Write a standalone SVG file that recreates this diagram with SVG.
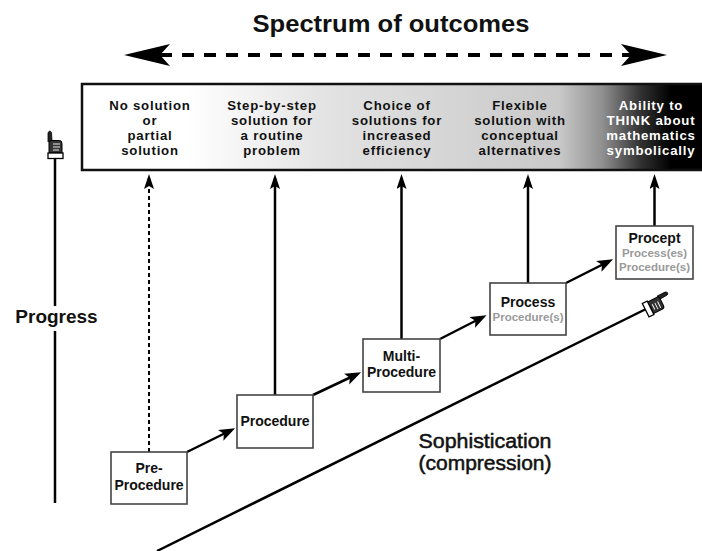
<svg xmlns="http://www.w3.org/2000/svg" width="702" height="551" viewBox="0 0 702 551">
<style>
  .lbl { font-family: "Liberation Sans", Arial, sans-serif; font-weight: bold; font-size: 13.2px; letter-spacing: 0.8px; text-anchor: middle; fill: #111; }
  .lbl.w { fill: #fff; }
  .box { fill: #fff; stroke: #444; stroke-width: 1.6; }
  .bt { font-family: "Liberation Sans", Arial, sans-serif; font-weight: bold; font-size: 14px; text-anchor: middle; fill: #111; }
  .bs { font-family: "Liberation Sans", Arial, sans-serif; font-weight: bold; font-size: 11.5px; text-anchor: middle; fill: #9a9a9a; }
  .up { stroke: #000; stroke-width: 2.5; fill: none; marker-end: url(#ahv); }
  .diag { stroke: #000; stroke-width: 2.5; fill: none; marker-end: url(#ahd); }
  .big { font-family: "Liberation Sans", Arial, sans-serif; fill: #111; text-anchor: middle; }
</style>
<defs>
  <linearGradient id="spec" gradientUnits="userSpaceOnUse" x1="82" y1="0" x2="702" y2="0">
    <stop offset="0" stop-color="#ffffff"/>
    <stop offset="0.17" stop-color="#ffffff"/>
    <stop offset="0.4" stop-color="#e2e2e2"/>
    <stop offset="0.77" stop-color="#c9c9c9"/>
    <stop offset="0.84" stop-color="#8f8f8f"/>
    <stop offset="0.9" stop-color="#333333"/>
    <stop offset="0.95" stop-color="#000000"/>
    <stop offset="1" stop-color="#000000"/>
  </linearGradient>
  <marker id="ahv" markerUnits="userSpaceOnUse" markerWidth="16" markerHeight="12" refX="11" refY="5" orient="auto">
    <path d="M0,0 L15,5 L0,10 L3,5 Z" fill="#000"/>
  </marker>
  <marker id="ahd" markerUnits="userSpaceOnUse" markerWidth="18" markerHeight="14" refX="12" refY="6" orient="auto">
    <path d="M0,0 L16,6 L0,12 L3.5,6 Z" fill="#000"/>
  </marker>
  <g id="hand">
    <path d="M-7,-17 L-7,-26 Q-5.5,-29.5 -3.5,-26.5 L-3,-18 Z" fill="#222" stroke="#000" stroke-width="0.8"/>
    <path d="M-6,-6 L-6,-16 Q-6,-18.5 -3.5,-18.5 L4.5,-18.5 Q7,-18.5 7,-15.5 L7,-6 Z" fill="#333" stroke="#000" stroke-width="1"/>
    <path d="M-2,-15 L5,-15 M-2,-12 L5,-12 M-2,-9 L4,-9" stroke="#fff" stroke-width="0.9" fill="none"/>
    <rect x="-7" y="-6" width="15" height="5.5" fill="#fff" stroke="#000" stroke-width="1.3"/>
  </g>
</defs>
<rect width="702" height="551" fill="#fff"/>

<g id="title">
  <text class="big" x="391" y="32" font-size="24" font-weight="bold" textLength="277" lengthAdjust="spacingAndGlyphs">Spectrum of outcomes</text>
</g>

<g id="spectrum-arrow">
  <line x1="160" y1="55" x2="632" y2="55" stroke="#000" stroke-width="4" stroke-dasharray="12 10"/>
  <polygon points="124,55 170,44 160,55 170,66" fill="#000"/>
  <polygon points="667,55 621,44 631,55 621,66" fill="#000"/>
</g>

<g id="outcomes">
  <rect x="82" y="84" width="640" height="86" fill="url(#spec)" stroke="#111" stroke-width="2.5"/>
  <g id="outcome-1">
    <text class="lbl" x="150" y="110">No solution</text>
    <text class="lbl" x="150" y="125">or</text>
    <text class="lbl" x="150" y="140">partial</text>
    <text class="lbl" x="150" y="155">solution</text>
  </g>
  <g id="outcome-2">
    <text class="lbl" x="272" y="110">Step-by-step</text>
    <text class="lbl" x="272" y="125">solution for</text>
    <text class="lbl" x="272" y="140">a routine</text>
    <text class="lbl" x="272" y="155">problem</text>
  </g>
  <g id="outcome-3">
    <text class="lbl" x="397" y="110">Choice of</text>
    <text class="lbl" x="397" y="125">solutions for</text>
    <text class="lbl" x="397" y="140">increased</text>
    <text class="lbl" x="397" y="155">efficiency</text>
  </g>
  <g id="outcome-4">
    <text class="lbl" x="520" y="110">Flexible</text>
    <text class="lbl" x="520" y="125">solution with</text>
    <text class="lbl" x="520" y="140">conceptual</text>
    <text class="lbl" x="520" y="155">alternatives</text>
  </g>
  <g id="outcome-5">
    <text class="lbl w" x="651" y="110">Ability to</text>
    <text class="lbl w" x="651" y="125">THINK about</text>
    <text class="lbl w" x="651" y="140">mathematics</text>
    <text class="lbl w" x="651" y="155">symbolically</text>
  </g>
</g>

<g id="progress">
  <line x1="55" y1="158" x2="55" y2="306" stroke="#000" stroke-width="2.5"/>
  <line x1="55" y1="331" x2="55" y2="503" stroke="#000" stroke-width="2.5"/>
  <use href="#hand" transform="translate(55,159)"/>
  <text class="big" x="56.5" y="323" font-size="19" font-weight="bold">Progress</text>
</g>

<g id="sophistication">
  <line x1="157" y1="551" x2="646" y2="309" stroke="#000" stroke-width="2.5"/>
  <use href="#hand" transform="translate(645,310) rotate(63.4)"/>
  <text class="big" x="485" y="448" font-size="19.5" stroke="#111" stroke-width="0.5" textLength="133" lengthAdjust="spacingAndGlyphs">Sophistication</text>
  <text class="big" x="485" y="470" font-size="19.5" stroke="#111" stroke-width="0.5" textLength="133" lengthAdjust="spacingAndGlyphs">(compression)</text>
</g>

<g id="connectors">
  <line x1="149" y1="452" x2="149" y2="178" stroke="#000" stroke-width="2" stroke-dasharray="4 3" fill="none"/>
  <line x1="149" y1="186" x2="149" y2="178" class="up"/>
  <line x1="275" y1="395" x2="275" y2="178" class="up"/>
  <line x1="401.5" y1="339" x2="401.5" y2="178" class="up"/>
  <line x1="528" y1="283" x2="528" y2="178" class="up"/>
  <line x1="654.5" y1="226" x2="654.5" y2="178" class="up"/>
  <line x1="187" y1="452" x2="231.5" y2="430" class="diag"/>
  <line x1="313" y1="395" x2="357.5" y2="374" class="diag"/>
  <line x1="440" y1="339" x2="483" y2="317" class="diag"/>
  <line x1="566" y1="283" x2="609.5" y2="261" class="diag"/>
</g>

<g id="pre-procedure">
  <rect class="box" x="111" y="452" width="76" height="52"/>
  <text class="bt" x="149" y="473">Pre-</text>
  <text class="bt" x="149" y="490">Procedure</text>
</g>
<g id="procedure">
  <rect class="box" x="237" y="395" width="76" height="53"/>
  <text class="bt" x="275" y="426">Procedure</text>
</g>
<g id="multi-procedure">
  <rect class="box" x="363" y="339" width="77" height="53"/>
  <text class="bt" x="401.5" y="361">Multi-</text>
  <text class="bt" x="401.5" y="377">Procedure</text>
</g>
<g id="process">
  <rect class="box" x="490" y="283" width="76" height="52"/>
  <text class="bt" x="528" y="307" font-size="15">Process</text>
  <text class="bs" x="528" y="321">Procedure(s)</text>
</g>
<g id="procept">
  <rect class="box" x="616" y="226" width="77" height="53"/>
  <text class="bt" x="654.5" y="243">Procept</text>
  <text class="bs" x="654.5" y="257">Process(es)</text>
  <text class="bs" x="654.5" y="271">Procedure(s)</text>
</g>
</svg>
